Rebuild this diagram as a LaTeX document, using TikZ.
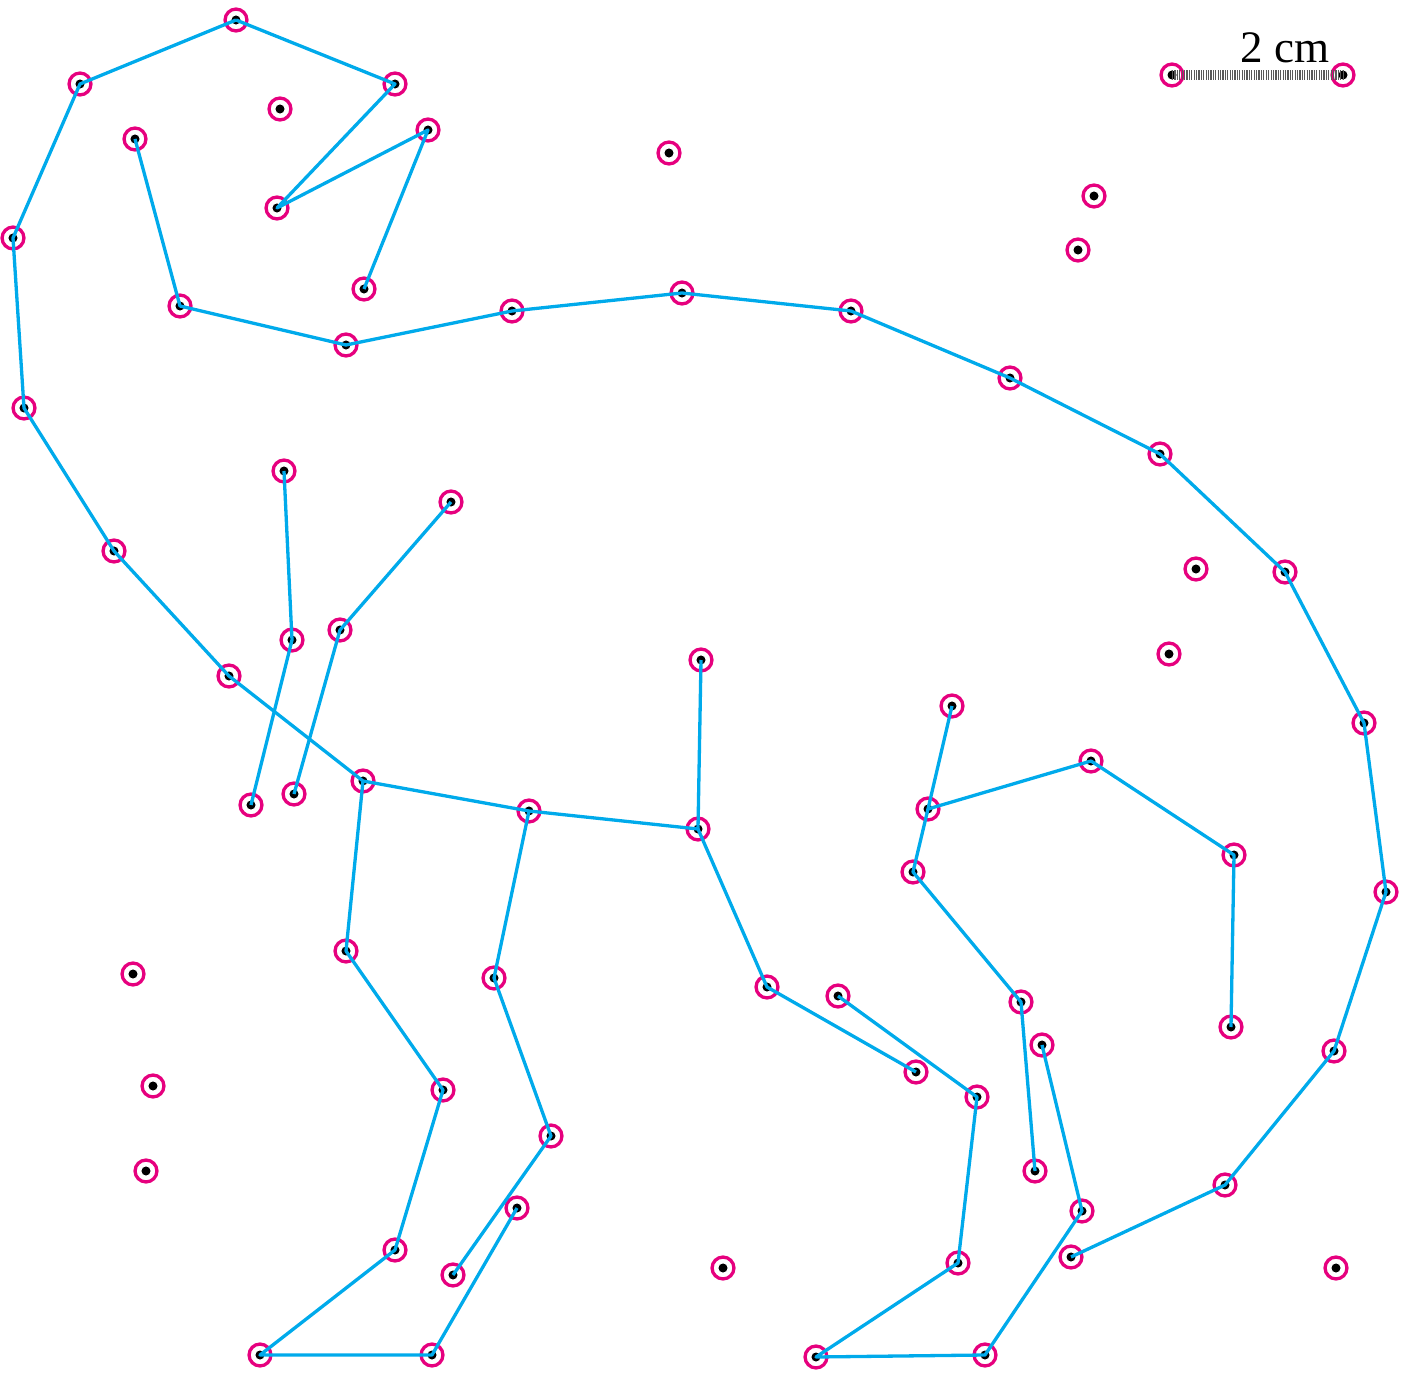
\documentclass[tikz,border=0pt]{standalone}
\usepackage{fontspec}
\setmainfont{Liberation Serif}
\usepackage{tikz}
\usetikzlibrary{calc}
\definecolor{DotPink}{RGB}{230,0,126}
\definecolor{LineBlue}{RGB}{0,170,235}

\begin{document}
\begin{tikzpicture}[x=0.0117cm,y=-0.0117cm,
  bone/.style={LineBlue,line width=1.1pt,line join=round},
  ring/.style={DotPink,line width=1.1pt}]
  \useasboundingbox (0,0) rectangle (1405,1373);
  % points
  \foreach \n/\x/\y in {n1/236/20,n2/80/84,n3/13/238,n4/24/408,n5/114/551,
      n6/229/676,n7/363/781,n8/529/811,n9/698/829,n10/767/987,n11/916/1072,
      k1/395/84,k2/277/208,k3/428/130,k4/364/289,
      t1/135/139,t2/180/306,t3/346/345,t4/512/311,t5/682/293,t6/851/311,
      t7/1010/378,t8/1160/454,t9/1285/572,t10/1364/723,t11/1386/892,
      t12/1334/1051,t13/1225/1185,t14/1071/1257,
      a1/284/471,a2/292/640,a3/251/805,c1/451/502,c2/340/630,c3/294/794,
      m1/701/660,
      l1/346/951,l2/443/1090,l3/395/1250,l4/260/1355,l5/432/1355,l6/517/1208,
      g1/494/978,g2/551/1136,g3/453/1275,
      r1/838/996,r2/977/1097,r3/958/1263,r4/816/1357,r5/985/1355,
      r6/1082/1211,r7/1042/1045,
      q1/952/706,q2/928/809,q3/913/872,q4/1021/1002,q5/1035/1171,
      w1/1091/761,w2/1234/855,w3/1231/1027,
      s1/280/109,s2/669/153,s3/1094/196,s4/1078/250,s5/1196/569,
      s6/1169/654,s7/133/974,s8/153/1086,s9/146/1171,s10/723/1268,
      s11/1336/1268,e1/1172/75,e2/1343/75}
  {
    \coordinate (\n) at (\x,\y);
    \draw[ring] (\n) circle (0.128cm);
    \fill (\n) circle (1.5pt);
  }
  % scale bar
  \draw[black!65,line width=3pt,dash pattern=on 0.4pt off 0.4pt] (e1)--(e2);
  \node[above,font=\fontsize{15}{18}\selectfont] at ($(e1)!0.66!(e2)+(0,-1)$) {2 cm};
  % outline
  \draw[bone] (n1)--(n2)--(n3)--(n4)--(n5)--(n6)--(n7)--(n8)--(n9)--(n10)--(n11);
  \draw[bone] (n1)--(k1)--(k2)--(k3)--(k4);
  \draw[bone] (t1)--(t2)--(t3)--(t4)--(t5)--(t6)--(t7)--(t8)--(t9)--(t10)
    --(t11)--(t12)--(t13)--(t14);
  \draw[bone] (a1)--(a2)--(a3);
  \draw[bone] (c1)--(c2)--(c3);
  \draw[bone] (m1)--(n9);
  % legs
  \draw[bone] (n7)--(l1)--(l2)--(l3)--(l4)--(l5)--(l6);
  \draw[bone] (n8)--(g1)--(g2)--(g3);
  \draw[bone] (r1)--(r2)--(r3)--(r4)--(r5)--(r6)--(r7);
  \draw[bone] (q1)--(q2)--(q3)--(q4)--(q5);
  \draw[bone] (q2)--(w1)--(w2)--(w3);
\end{tikzpicture}
\end{document}
